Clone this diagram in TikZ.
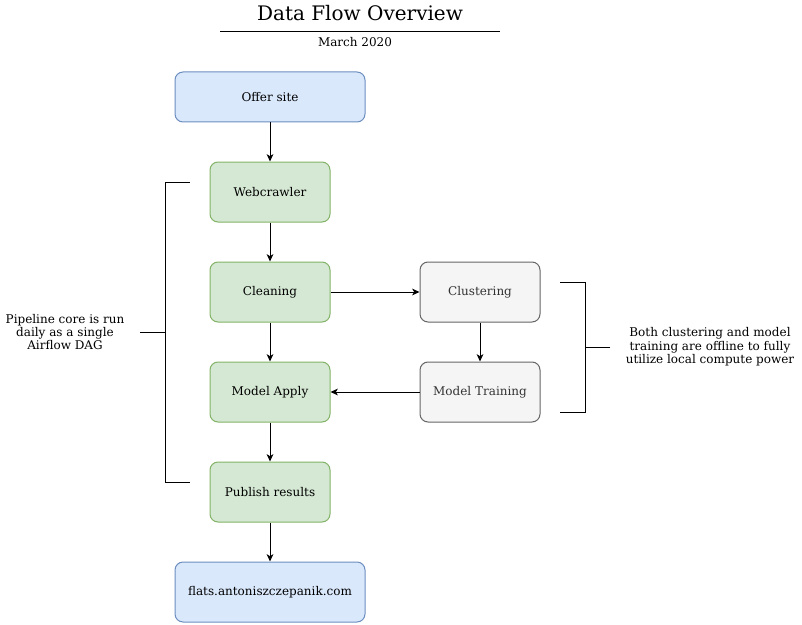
\documentclass[tikz,border=0pt]{standalone}
\usepackage{fontspec}
\setmainfont{DejaVu Serif}
\usepackage{xcolor}
\usepackage{tikz}
\usetikzlibrary{arrows,arrows.meta,calc,positioning}
\definecolor{siteblue}{HTML}{DAE8FC}
\definecolor{sitebluel}{HTML}{6C8EBF}
\definecolor{stepgreen}{HTML}{D5E8D4}
\definecolor{stepgreenl}{HTML}{82B366}
\definecolor{offgray}{HTML}{F5F5F5}
\definecolor{offgrayl}{HTML}{666666}
\definecolor{offtext}{HTML}{333333}

\begin{document}
\begin{tikzpicture}[x=0.75pt,y=-0.75pt,line width=0.75pt,>={Stealth[length=5.5pt,width=5pt,inset=1.5pt]},
	box/.style={rectangle,rounded corners=6pt,minimum width=90pt,minimum height=45pt,font=\fontsize{9}{11}\selectfont},
	sitebox/.style={box,fill=siteblue,draw=sitebluel,minimum width=142.5pt},
	stepbox/.style={box,fill=stepgreen,draw=stepgreenl},
	offbox/.style={box,fill=offgray,draw=offgrayl,text=offtext},
	note/.style={align=center,font=\fontsize{9}{10}\selectfont}]
		\useasboundingbox (0,0) rectangle (802,624);
		% title
		\node (title) at (360,13) {\fontsize{15}{18}\selectfont Data Flow Overview};
		\coordinate (ruleL) at (220,32);
		\coordinate (ruleR) at (500,32);
		\draw (ruleL) -- (ruleR);
		\node[font=\fontsize{9}{11}\selectfont] (date) at (355,42) {March 2020};
		% pipeline
		\node[sitebox,minimum height=37.5pt] (offer) at (270,97) {Offer site};
		\node[stepbox] (crawler) at (270,192) {Webcrawler};
		\node[stepbox] (clean) at (270,292) {Cleaning};
		\node[stepbox] (apply) at (270,392) {Model Apply};
		\node[stepbox] (publish) at (270,492) {Publish results};
		\node[sitebox] (flats) at (270,592) {flats.antoniszczepanik.com};
		% offline part
		\node[offbox] (cluster) at (480,292) {Clustering};
		\node[offbox] (train) at (480,392) {Model Training};
		\draw[->] (offer) -- (crawler);
		\draw[->] (crawler) -- (clean);
		\draw[->] (clean) -- (apply);
		\draw[->] (apply) -- (publish);
		\draw[->] (publish) -- (flats);
		\draw[->] (clean) -- (cluster);
		\draw[->] (cluster) -- (train);
		\draw[->] (train) -- (apply);
		% brackets
		\coordinate (coreTop) at (190,182);
		\coordinate (coreBot) at (190,482);
		\coordinate (coreMid) at (140,332);
		\draw (coreTop) -- (165,182) -- (165,482) -- (coreBot);
		\draw (coreMid) -- (165,332);
		\node[note] (coreNote) at (65,332) {Pipeline core is run\\daily as a single\\Airflow DAG};
		\coordinate (offTop) at (560,282);
		\coordinate (offBot) at (560,412);
		\coordinate (offMid) at (610,347);
		\draw (offTop) -- (585,282) -- (585,412) -- (offBot);
		\draw (offMid) -- (585,347);
		\node[note] (offNote) at (710,347) {Both clustering and model\\training are offline to fully\\utilize local compute power};
		\end{tikzpicture}
\end{document}
